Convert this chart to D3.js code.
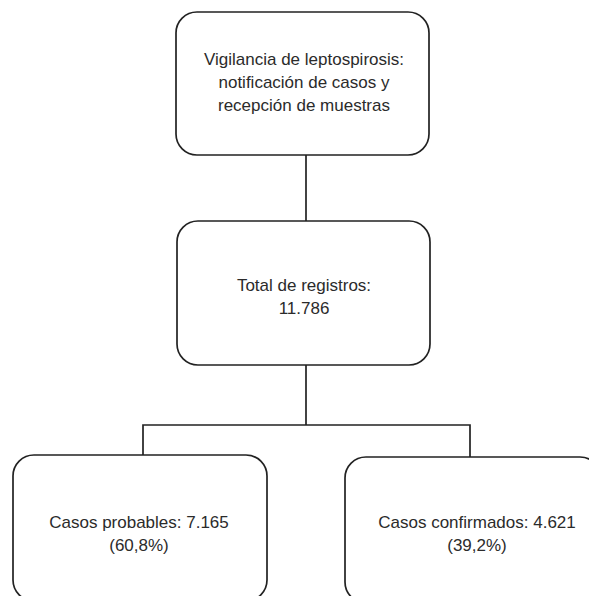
<!DOCTYPE html>
<html>
<head>
<meta charset="utf-8">
<script src="https://cdn.jsdelivr.net/npm/d3@7"></script>
<style>
  html, body { margin: 0; padding: 0; background: #fff; }
  svg { display: block; }
</style>
</head>
<body>
<div id="chart"></div>
<script>
const width = 589;
const height = 596;

// Flowchart content
const totalRecords = 11786;
const caseTypes = ["Casos probables", "Casos confirmados"];
const caseCounts = [7165, 4621];
const casePercents = [60.8, 39.2];
const headerLines = ["Vigilancia de leptospirosis:", "notificación de casos y", "recepción de muestras"];

// number formatting in Spanish style (dot thousands, comma decimals)
const es = d3.formatLocale({ decimal: ",", thousands: ".", grouping: [3], currency: ["", "€"] });
const fmtInt = es.format(",d");
const fmtPct = es.format(".1f");

// Box layout (pixels)
const boxes = [
  { id: "header", x: 176, y: 12, w: 253, h: 143, lines: headerLines, firstBaseline: 65, cx: 304 },
  { id: "total", x: 177, y: 221, w: 253, h: 144, lines: ["Total de registros:", fmtInt(totalRecords)], firstBaseline: 291, cx: 304 },
  { id: "prob", x: 13, y: 455, w: 254, h: 146,
    lines: [`${caseTypes[0]}: ${fmtInt(caseCounts[0])}`, `(${fmtPct(casePercents[0])}%)`], firstBaseline: 528, cx: 139 },
  { id: "conf", x: 345, y: 457, w: 256, h: 146,
    lines: [`${caseTypes[1]}: ${fmtInt(caseCounts[1])}`, `(${fmtPct(casePercents[1])}%)`], firstBaseline: 528, cx: 477 }
];
const lineHeight = 23;
const radius = 21;

const svg = d3.select("#chart")
  .append("svg")
  .attr("width", width)
  .attr("height", height);

const byId = Object.fromEntries(boxes.map(b => [b.id, b]));

// Connectors
const header = byId.header, total = byId.total, prob = byId.prob, conf = byId.conf;
const stemX = 306, branchY = 425, leftX = 143, rightX = 470;
const connectors = [
  [[stemX, header.y + header.h], [stemX, total.y]],
  [[stemX, total.y + total.h], [stemX, branchY]],
  [[leftX, prob.y], [leftX, branchY], [rightX, branchY], [rightX, conf.y]]
];

svg.append("g")
  .attr("fill", "none")
  .attr("stroke", "#222")
  .attr("stroke-width", 1.7)
  .selectAll("path")
  .data(connectors)
  .join("path")
  .attr("d", d3.line());

// Boxes
const node = svg.append("g")
  .selectAll("g")
  .data(boxes)
  .join("g");

node.append("rect")
  .attr("x", d => d.x)
  .attr("y", d => d.y)
  .attr("width", d => d.w)
  .attr("height", d => d.h)
  .attr("rx", radius)
  .attr("ry", radius)
  .attr("fill", "#fff")
  .attr("stroke", "#222")
  .attr("stroke-width", 1.7);

node.append("text")
  .attr("text-anchor", "middle")
  .style("font-family", "'Liberation Sans', Arial, Helvetica, sans-serif")
  .style("font-size", "17px")
  .attr("fill", "#2b2b2b")
  .each(function (d) {
    const t = d3.select(this);
    d.lines.forEach((line, i) => {
      t.append("tspan")
        .attr("x", d.cx)
        .attr("y", d.firstBaseline + i * lineHeight)
        .text(line);
    });
  });
</script>
</body>
</html>
